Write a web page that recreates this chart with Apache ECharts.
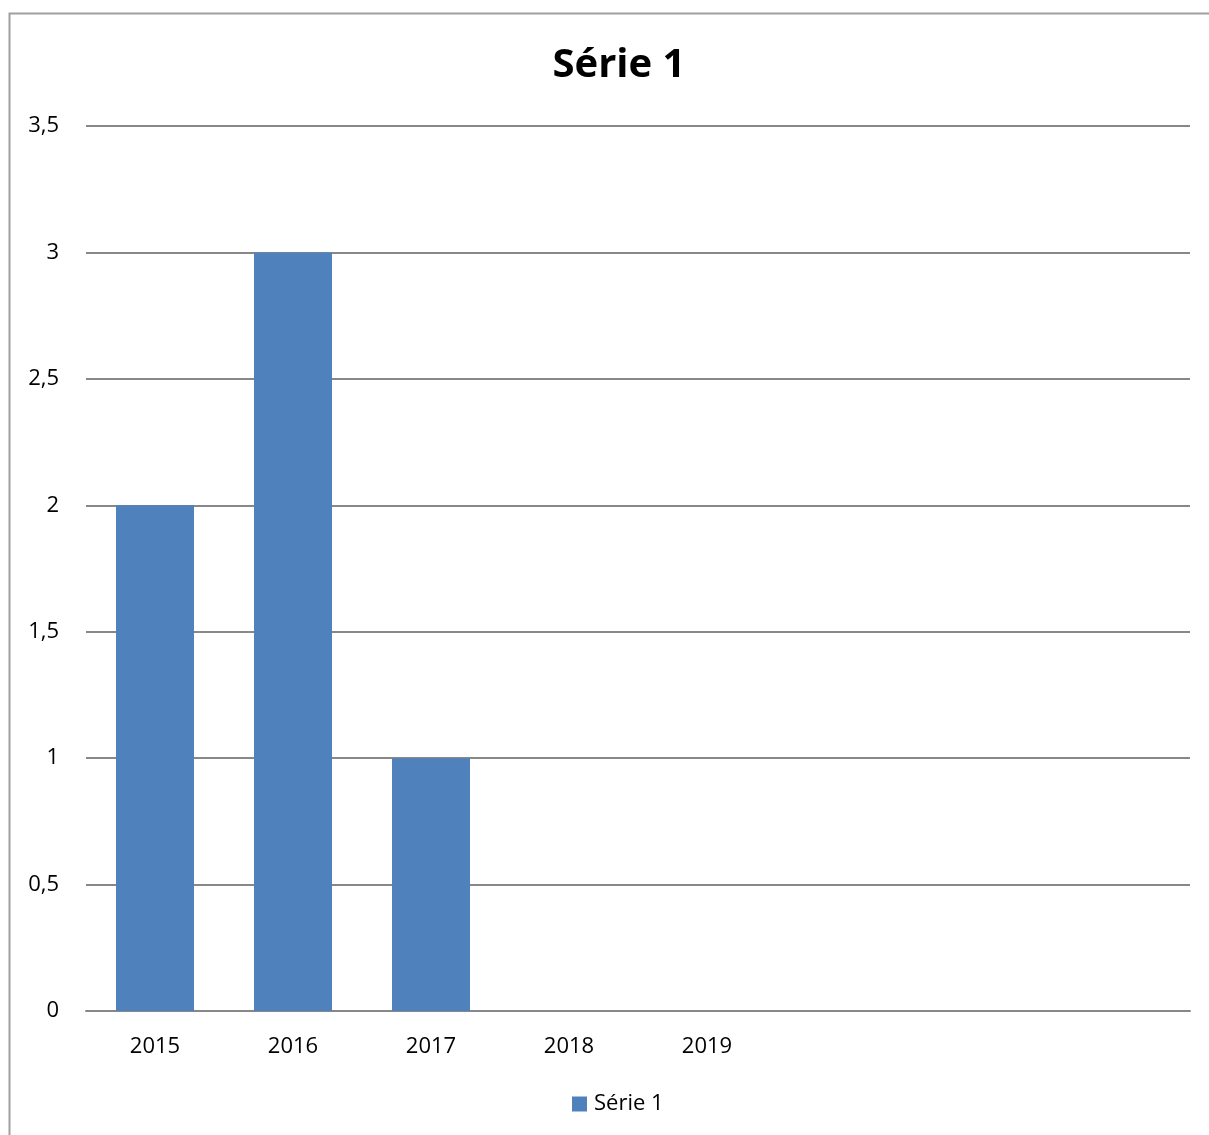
<!DOCTYPE html>
<html>
<head>
<meta charset="utf-8">
<script src="https://cdn.jsdelivr.net/npm/echarts@6/dist/echarts.min.js"></script>
<style>
html,body{margin:0;padding:0;background:#fff;}
#c{width:1209px;height:1135px;}
</style>
</head>
<body>
<div id="c"></div>
<script>
const categories = ['2015', '2016', '2017', '2018', '2019', '', '', ''];
const seriesName = 'Série 1';
const values = [2, 3, 1, null, null, null, null, null];
const yTicks = { min: 0, max: 3.5, interval: 0.5 };

const chart = echarts.init(document.getElementById('c'), null, { renderer: 'canvas' });
const font = '"Open Sans", "Noto Sans", sans-serif';
chart.setOption({
  animation: false,
  backgroundColor: '#fff',
  title: {
    text: seriesName,
    left: 614, top: 41, textAlign: 'center',
    textStyle: { fontFamily: font, fontSize: 40, fontWeight: 'bold', color: '#000' }
  },
  legend: {
    data: [seriesName],
    top: 1088, left: 567,
    icon: 'rect', itemWidth: 15, itemHeight: 15,
    textStyle: { fontFamily: font, fontSize: 22, color: '#000', padding: [0, 0, 0, 2] }
  },
  grid: { left: 86, right: 19, top: 126, bottom: 124, containLabel: false },
  xAxis: {
    type: 'category',
    data: categories,
    axisLine: { show: true, lineStyle: { color: '#888', width: 2 } },
    axisTick: { show: false },
    axisLabel: { fontFamily: font, fontSize: 22, color: '#000', margin: 25, interval: 0 },
    splitLine: { show: false }
  },
  yAxis: {
    type: 'value',
    min: yTicks.min, max: yTicks.max, interval: yTicks.interval,
    axisLine: { show: false },
    axisTick: { show: false },
    axisLabel: {
      fontFamily: font, fontSize: 22, color: '#000', margin: 27, padding: [4, 0, 0, 0],
      formatter: v => String(v).replace('.', ',')
    },
    splitLine: { show: true, lineStyle: { color: '#888', width: 2 } }
  },
  series: [{
    name: seriesName,
    type: 'bar',
    data: values,
    barWidth: '56.5%',
    itemStyle: { color: '#4F81BD' }
  }],
  graphic: [{
    type: 'polyline',
    shape: { points: [[9.5, 1135], [9.5, 13.5], [1209, 13.5]] },
    style: { stroke: '#a0a0a0', lineWidth: 2, fill: null }
  }]
});
</script>
</body>
</html>
